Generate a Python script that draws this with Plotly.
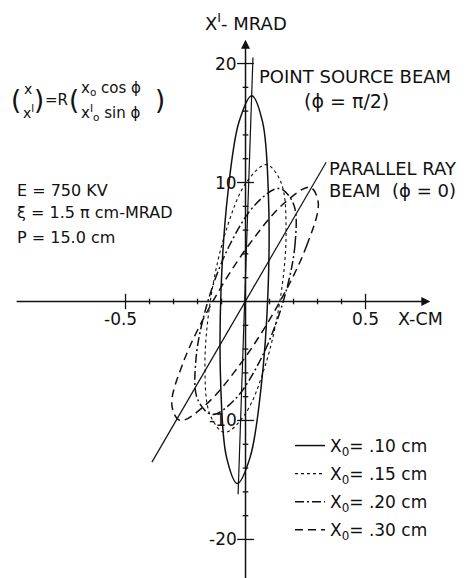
import plotly.graph_objects as go

FONT = "DejaVu Sans"
INK = "#111111"

# phase-space ellipses: x in cm, x' in mrad (first point repeated to close the loop)
ELL_10_X = [0.094, 0.095, 0.071, 0.026, -0.027, -0.073, -0.102, -0.103, -0.079, -0.034, 0.019, 0.065, 0.094]
ELL_10_XP = [1.0, 9.2, 15.1, 17.3, 15.1, 9.2, 1.0, -7.2, -13.1, -15.3, -13.1, -7.2, 1.0]
ELL_15_X = [0.145, 0.169, 0.148, 0.087, 0.003, -0.082, -0.145, -0.169, -0.148, -0.087, -0.003, 0.082, 0.145]
ELL_15_XP = [0.25, 5.9, 10.0, 11.5, 10.0, 5.9, 0.25, -5.4, -9.5, -11.0, -9.5, -5.4, 0.25]
ELL_20_X = [0.157, 0.206, 0.200, 0.140, 0.043, -0.066, -0.157, -0.206, -0.200, -0.140, -0.043, 0.066, 0.157]
ELL_20_XP = [0.0, 4.75, 8.2, 9.5, 8.2, 4.75, 0.0, -4.75, -8.2, -9.5, -8.2, -4.75, 0.0]
ELL_30_X = [0.138, 0.255, 0.303, 0.269, 0.163, 0.012, -0.142, -0.259, -0.307, -0.273, -0.167, -0.016, 0.138]
ELL_30_XP = [-0.2, 4.7, 8.3, 9.6, 8.3, 4.7, -0.2, -5.1, -8.7, -10.0, -8.7, -5.1, -0.2]

ELL_NAMES = ["X<sub>0</sub>= .10 cm", "X<sub>0</sub>= .15 cm", "X<sub>0</sub>= .20 cm", "X<sub>0</sub>= .30 cm"]

# the two beam lines (phi = pi/2 and phi = 0)
POINT_SOURCE_X = [-0.031, 0.031]
POINT_SOURCE_XP = [-16.2, 20.5]
PARALLEL_X = [-0.39, 0.336]
PARALLEL_XP = [-13.5, 11.7]

# axes
X_AXIS_SPAN = [-0.96, 0.77]
Y_AXIS_SPAN = [-23.6, 22.0]
X_MINOR = [-0.4, -0.3, -0.2, -0.1, 0.1, 0.2, 0.3, 0.4]
X_MAJOR = [-0.5, 0.5]
X_MAJOR_LABELS = ["-0.5", "0.5"]
Y_MINOR = [-18, -16, -14, -12, -8, -6, -4, -2, 2, 4, 6, 8, 12, 14, 16, 18]
Y_MAJOR = [-20, -10, 10, 20]
Y_MAJOR_LABELS = ["-20", "-10", "10", "20"]

X_RANGE = [-1.023, 0.927]
Y_RANGE = [-23.24, 25.34]

fig = go.Figure()

styles = [
    {"color": INK, "width": 1.5, "dash": "solid"},
    {"color": INK, "width": 1.1, "dash": "dot"},
    {"color": INK, "width": 1.5, "dash": "9px,3px,2px,3px"},
    {"color": INK, "width": 1.5, "dash": "8px,5px"},
]
ellipses = [(ELL_10_X, ELL_10_XP), (ELL_15_X, ELL_15_XP), (ELL_20_X, ELL_20_XP), (ELL_30_X, ELL_30_XP)]
for i, ((xs, xps), name, style) in enumerate(zip(ellipses, ELL_NAMES, styles)):
    fig.add_trace(go.Scatter(
        x=xs, y=xps, mode="lines", name=name, legendgroup=f"g{i}",
        line={**style, "shape": "spline", "smoothing": 1.0},
        hoverinfo="skip",
    ))

for xs, ys in ((POINT_SOURCE_X, POINT_SOURCE_XP), (PARALLEL_X, PARALLEL_XP)):
    fig.add_trace(go.Scatter(x=xs, y=ys, mode="lines", showlegend=False,
                             line={"color": INK, "width": 1.2}, hoverinfo="skip"))

# tick marks crossing the axes
fig.add_trace(go.Scatter(x=X_MINOR, y=[0] * len(X_MINOR), mode="markers", showlegend=False, hoverinfo="skip",
                         marker={"symbol": "line-ns", "size": 4, "line": {"color": INK, "width": 1.3}}))
fig.add_trace(go.Scatter(x=X_MAJOR, y=[0] * len(X_MAJOR), mode="markers", showlegend=False, hoverinfo="skip",
                         marker={"symbol": "line-ns", "size": 11, "line": {"color": INK, "width": 1.3}}))
fig.add_trace(go.Scatter(x=[0] * len(Y_MINOR), y=Y_MINOR, mode="markers", showlegend=False, hoverinfo="skip",
                         marker={"symbol": "line-ew", "size": 4, "line": {"color": INK, "width": 1.3}}))
fig.add_trace(go.Scatter(x=[0] * len(Y_MAJOR), y=Y_MAJOR, mode="markers", showlegend=False, hoverinfo="skip",
                         marker={"symbol": "line-ew", "size": 12, "line": {"color": INK, "width": 1.3}}))

ann = []
# axis lines with arrow heads
ann.append(dict(x=X_AXIS_SPAN[1], y=0, ax=X_AXIS_SPAN[0], ay=0, xref="x", yref="y", axref="x", ayref="y",
                text="", showarrow=True, arrowhead=2, arrowsize=1.2, arrowwidth=1.5, arrowcolor=INK))
ann.append(dict(x=0, y=Y_AXIS_SPAN[1], ax=0, ay=Y_AXIS_SPAN[0], xref="x", yref="y", axref="x", ayref="y",
                text="", showarrow=True, arrowhead=2, arrowsize=1.2, arrowwidth=1.5, arrowcolor=INK))


def label(x, y, text, size=16, xanchor="left", yanchor="middle"):
    ann.append(dict(x=x, y=y, xref="x", yref="y", text=text, showarrow=False, xanchor=xanchor,
                    yanchor=yanchor, font={"family": FONT, "size": size, "color": INK}))


for v, t in zip(Y_MAJOR, Y_MAJOR_LABELS):
    label(-0.026, v, t, size=17, xanchor="right")
for v, t in zip(X_MAJOR, X_MAJOR_LABELS):
    label(v - (0.02 if v < 0 else 0), -1.5, t, size=17, xanchor="center")
label(0.731, -1.5, "X-CM", size=17.5, xanchor="center")
label(0.002, 23.5, "X<sup>I</sup>- MRAD", size=18, xanchor="center")

label(0.048, 18.95, "POINT SOURCE BEAM", size=18)
label(0.235, 16.85, "(ϕ = π/2)", size=19)
label(0.34, 11.2, "PARALLEL RAY", size=18)
label(0.34, 9.37, "BEAM  (ϕ = 0)", size=18)

label(-0.96, 9.37, "E = 750 KV", size=16)
label(-0.96, 7.44, "ξ = 1.5 π cm-MRAD", size=16)
label(-0.96, 5.34, "P = 15.0 cm", size=16)

# matrix formula
label(-0.956, 16.9, "(", size=26, xanchor="center")
label(-0.906, 17.9, "x", size=14, xanchor="center")
label(-0.906, 15.9, "x<sup>I</sup>", size=14, xanchor="center")
label(-0.859, 16.9, ")", size=26, xanchor="center")
label(-0.786, 16.9, "=R", size=15, xanchor="center")
label(-0.7165, 16.9, "(", size=26, xanchor="center")
label(-0.694, 17.9, "x<sub>o</sub> cos ϕ", size=15)
label(-0.694, 15.9, "x<sup>I</sup><sub>o</sub> sin ϕ", size=15)
label(-0.358, 16.9, ")", size=26, xanchor="center")

fig.update_layout(
    width=468, height=578,
    margin={"l": 0, "r": 0, "t": 0, "b": 0},
    paper_bgcolor="white", plot_bgcolor="white",
    font={"family": FONT, "size": 16, "color": INK},
    xaxis={"range": X_RANGE, "visible": False, "fixedrange": True},
    yaxis={"range": Y_RANGE, "visible": False, "fixedrange": True},
    annotations=ann,
    showlegend=True,
    legend={"x": 290 / 468, "y": 1 - 428 / 578, "xanchor": "left", "yanchor": "top",
            "font": {"family": FONT, "size": 17, "color": INK}, "bgcolor": "rgba(0,0,0,0)",
            "tracegroupgap": 3},
)

fig.write_html("out.html", config={"displayModeBar": False},
               post_script="document.body.style.margin='0';")
